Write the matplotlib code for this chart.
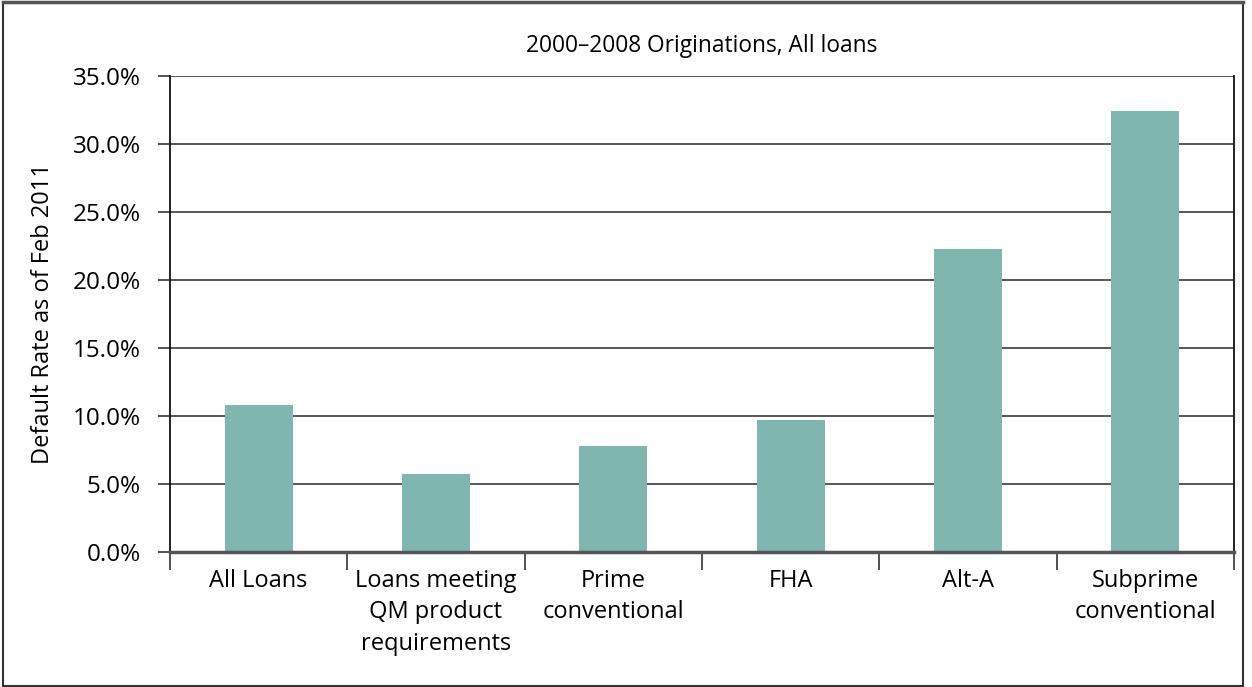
import matplotlib
matplotlib.use("Agg")
import matplotlib.pyplot as plt
from matplotlib.patches import Rectangle
import numpy as np

categories = ["All Loans", "Loans meeting\nQM product\nrequirements", "Prime\nconventional",
              "FHA", "Alt-A", "Subprime\nconventional"]
default_rate = [10.8, 5.7, 7.8, 9.7, 22.3, 32.4]
yticks = [0, 5, 10, 15, 20, 25, 30, 35]
title = "2000\u20132008 Originations, All loans"
ylabel = "Default Rate as of Feb 2011"

plt.rcParams['font.family'] = ['Open Sans', 'DejaVu Sans']

W, H = 1252, 687
fig = plt.figure(figsize=(W / 100, H / 100), dpi=100)
ax = fig.add_axes([170 / W, 1 - 552 / H, (1234 - 170) / W, (552 - 76) / H])

x = np.arange(len(categories))
ax.bar(x, default_rate, width=0.385, color="#7fb6af", zorder=3)

ax.set_xlim(-0.5, len(categories) - 0.5)
ax.set_ylim(0, 35)
ax.set_yticks(yticks)
ax.set_yticklabels([f"{v:.1f}%" for v in yticks], fontsize=17.5)
ax.yaxis.grid(True, color="#3a3a3a", linewidth=1.2, zorder=1)
ax.tick_params(axis='y', length=9, width=1.1, color="#222222", pad=12)

ax.set_xticks(x)
ax.set_xticklabels(categories, fontsize=17, linespacing=1.43)
ax.set_xticks(np.arange(len(categories) + 1) - 0.5, minor=True)
ax.tick_params(axis='x', which='major', length=0, pad=12)
ax.tick_params(axis='x', which='minor', length=13, width=1.1, color="#222222")

for s in ["left", "right"]:
    ax.spines[s].set_color("#111111")
    ax.spines[s].set_linewidth(1.3)
ax.spines["top"].set_visible(False)
ax.spines["bottom"].set_color("#555555")
ax.spines["bottom"].set_linewidth(2.5)
ax.spines["bottom"].set_zorder(4)

ax.set_ylabel(ylabel, fontsize=17)
ax.yaxis.set_label_coords((55 - 170) / (1234 - 170), 0.5)

fig.text(702 / W, 1 - 46 / H, title, ha="center", va="center", fontsize=16.4)

fig.patches.append(Rectangle((3 / W, 1 / H), (1243 - 3) / W, (684 - 1) / H,
                             transform=fig.transFigure, fill=False,
                             edgecolor="#333333", linewidth=1.5))
fig.add_artist(plt.Line2D([3 / W, 1243 / W], [1 - 2 / H, 1 - 2 / H],
                          transform=fig.transFigure, color="#555555", linewidth=2.5))

fig.savefig("out.png", dpi=100)
